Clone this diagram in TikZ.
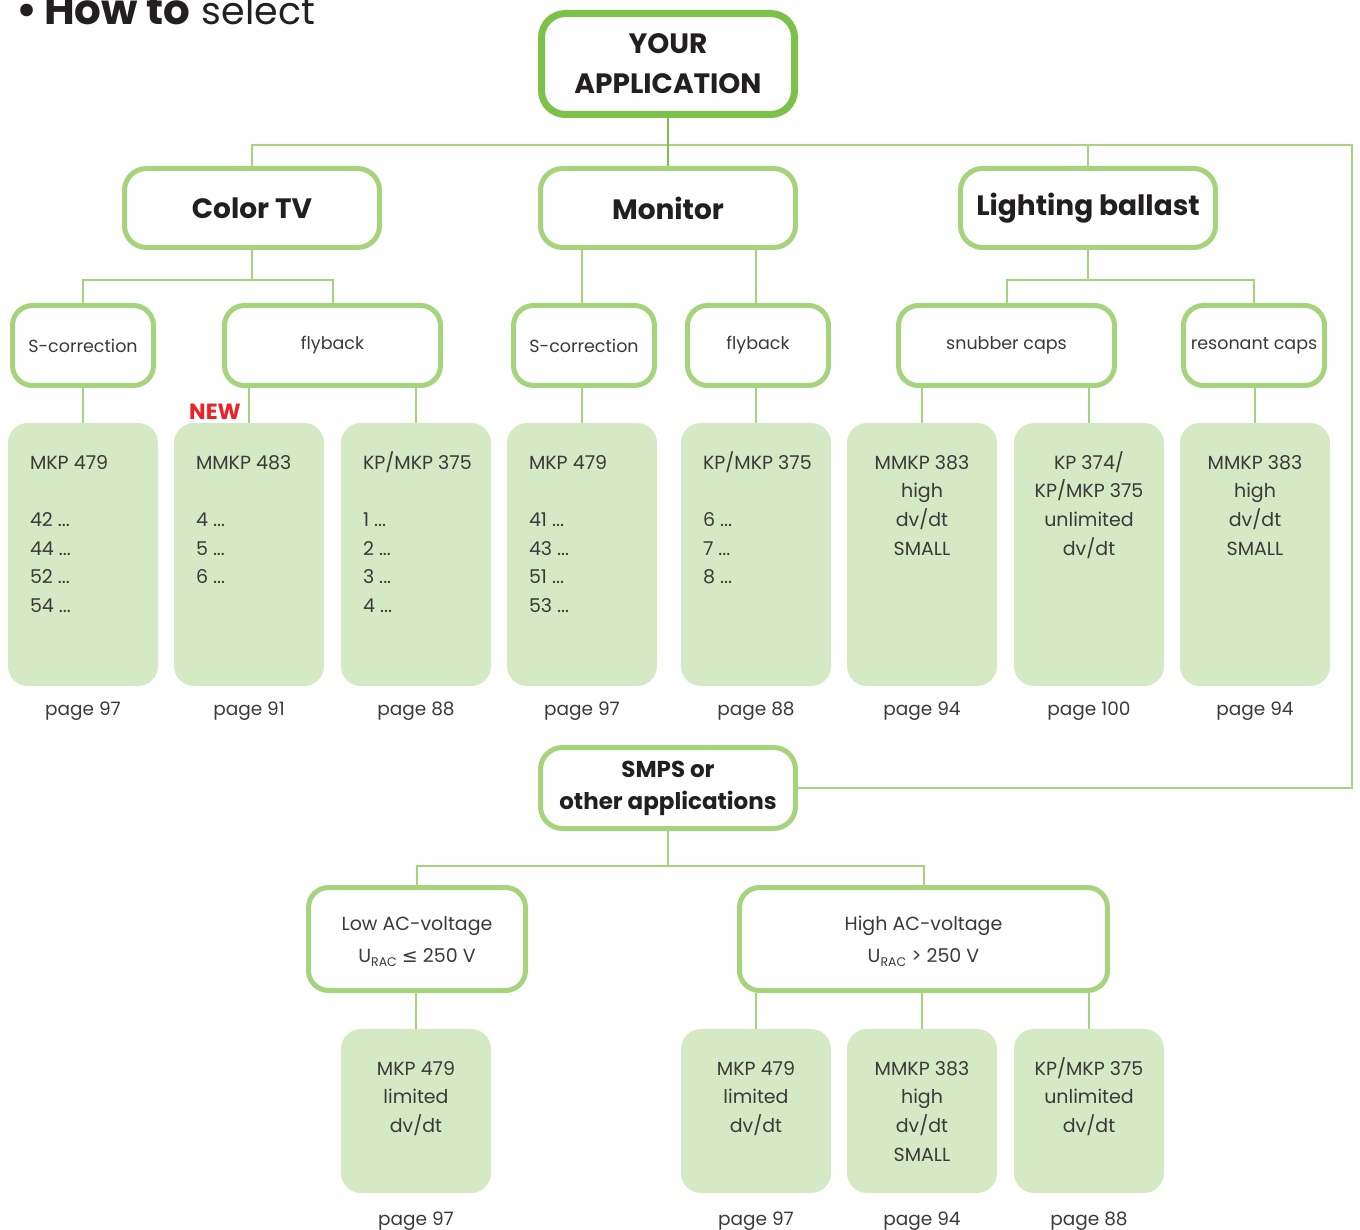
\documentclass[tikz,border=0pt]{standalone}
\usepackage{fontspec}
\setmainfont{Poppins}
\newfontfamily\symfont{DejaVu Sans}
\usetikzlibrary{calc}
\definecolor{brightgreen}{HTML}{7CC24A}
\definecolor{lightgreen}{HTML}{A6D47C}
\definecolor{fillgreen}{HTML}{D5E9C4}
\definecolor{txt}{HTML}{3A3A3A}
\definecolor{dark}{HTML}{231F20}
\definecolor{newred}{HTML}{EC2227}
\newcommand{\urac}{U\raisebox{-4pt}{\fontsize{12.5}{12.5}\selectfont RAC}}
\newcommand{\fst}{\rule{0pt}{22pt}}
\tikzset{
 mainbox/.style={draw=brightgreen, line width=7pt, rounded corners=24pt, fill=white, minimum width=253pt, minimum height=101pt, inner sep=0pt, align=center, text=dark, font=\fontsize{28}{40}\selectfont\bfseries},
 catbox/.style={draw=lightgreen, line width=5pt, rounded corners=22pt, fill=white, minimum width=255pt, minimum height=79pt, inner sep=0pt, align=center, text=dark, font=\fontsize{28}{34}\selectfont\bfseries},
 subbox/.style={draw=lightgreen, line width=5pt, rounded corners=20pt, fill=white, minimum height=80pt, inner sep=0pt, align=center, text=txt, font=\fontsize{17.5}{32}\selectfont},
 prodbox/.style={fill=fillgreen, rounded corners=20pt, minimum width=150pt, inner sep=0pt},
 prodtxt/.style={text=txt, font=\fontsize{19}{28.7}\selectfont, inner sep=0pt},
 pagelbl/.style={text=txt, font=\fontsize{18.5}{22}\selectfont, inner sep=0pt},
 conn/.style={draw=lightgreen, line width=2pt},
}
\begin{document}
\begin{tikzpicture}[x=1pt,y=-1pt]
\useasboundingbox (0,0) rectangle (1360,1230);
\clip (0,0) rectangle (1360,1230);

% title
\node[anchor=base west, inner sep=0pt, text=dark, font=\fontsize{42}{42}\selectfont] (title) at (16,25) {\textbf{•\,How to} {\fontsize{38}{38}\selectfont select}};

% top
\node[mainbox] (app) at (668,64) {YOUR\\APPLICATION};

% categories
\node[catbox] (ctv) at (252,208) {Color TV};
\node[catbox] (mon) at (668,208) {Monitor};
\node[catbox] (lb) at (1088,208) {Lighting ballast};

% sub categories
\node[subbox, minimum width=141pt] (sc1) at (83,345.5) {S-correction};
\node[subbox, minimum width=216pt] (fb1) at (332.5,345.5) {flyback};
\node[subbox, minimum width=141pt] (sc2) at (584,345.5) {S-correction};
\node[subbox, minimum width=141pt] (fb2) at (758,345.5) {flyback};
\node[subbox, minimum width=216pt] (snub) at (1006.5,345.5) {snubber caps};
\node[subbox, minimum width=141pt] (res) at (1254,345.5) {resonant caps};

% product boxes
\foreach \n/\x in {1/83,2/249,3/416,4/582,5/756,6/922,7/1089,8/1255}{
  \node[prodbox, minimum height=263pt] (g\n) at (\x,554.5) {};
}
\node[prodtxt, anchor=north west, align=left] (t1) at ($(g1.north west)+(22,24)$) {\fst MKP 479\\[28.7pt]42 ...\\44 ...\\52 ...\\54 ...};
\node[prodtxt, anchor=north west, align=left] (t2) at ($(g2.north west)+(22,24)$) {\fst MMKP 483\\[28.7pt]4 ...\\5 ...\\6 ...};
\node[prodtxt, anchor=north west, align=left] (t3) at ($(g3.north west)+(22,24)$) {\fst KP/MKP 375\\[28.7pt]1 ...\\2 ...\\3 ...\\4 ...};
\node[prodtxt, anchor=north west, align=left] (t4) at ($(g4.north west)+(22,24)$) {\fst MKP 479\\[28.7pt]41 ...\\43 ...\\51 ...\\53 ...};
\node[prodtxt, anchor=north west, align=left] (t5) at ($(g5.north west)+(22,24)$) {\fst KP/MKP 375\\[28.7pt]6 ...\\7 ...\\8 ...};
\node[prodtxt, anchor=north, align=center] (t6) at ($(g6.north)+(0,24)$) {\fst MMKP 383\\high\\dv/dt\\SMALL};
\node[prodtxt, anchor=north, align=center] (t7) at ($(g7.north)+(0,24)$) {\fst KP 374/\\KP/MKP 375\\unlimited\\dv/dt};
\node[prodtxt, anchor=north, align=center] (t8) at ($(g8.north)+(0,24)$) {\fst MMKP 383\\high\\dv/dt\\SMALL};

\foreach \n/\p in {1/97,2/91,3/88,4/97,5/88,6/94,7/100,8/94}{
  \node[pagelbl] (p\n) at ($(g\n.south)+(0,25)$) {page \p};
}

\node[inner sep=0pt, text=newred, font=\fontsize{22}{22}\selectfont\bfseries] (new) at (215,412) {NEW};

% SMPS
\node[catbox, minimum height=81pt, font=\fontsize{23}{32}\selectfont\bfseries] (smps) at (668,788) {SMPS or\\other applications};
\node[subbox, minimum width=217pt, minimum height=103pt, font=\fontsize{19}{32}\selectfont] (low) at (417,939) {\rule{0pt}{20pt}Low AC-voltage\\\urac\ {\symfont ≤} 250 V};
\node[subbox, minimum width=368pt, minimum height=103pt, font=\fontsize{19}{32}\selectfont] (high) at (923.5,939) {\rule{0pt}{20pt}High AC-voltage\\\urac\ > 250 V};

\foreach \n/\x in {1/416,2/756,3/922,4/1089}{
  \node[prodbox, minimum height=164pt] (h\n) at (\x,1111) {};
}
\node[prodtxt, anchor=north, align=center] (u1) at ($(h1.north)+(0,24)$) {\fst MKP 479\\limited\\dv/dt};
\node[prodtxt, anchor=north, align=center] (u2) at ($(h2.north)+(0,24)$) {\fst MKP 479\\limited\\dv/dt};
\node[prodtxt, anchor=north, align=center] (u3) at ($(h3.north)+(0,24)$) {\fst MMKP 383\\high\\dv/dt\\SMALL};
\node[prodtxt, anchor=north, align=center] (u4) at ($(h4.north)+(0,24)$) {\fst KP/MKP 375\\unlimited\\dv/dt};
\foreach \n/\p in {1/97,2/97,3/94,4/88}{
  \node[pagelbl] (q\n) at ($(h\n.south)+(0,28)$) {page \p};
}

% connectors
\coordinate (corner) at (1352,145);
\draw[conn] (ctv.north) |- (corner) |- (smps.east);
\draw[conn] (lb.north) -- (lb.north |- corner);
\draw[draw=brightgreen, line width=2pt] (app.south) -- (mon.north);

\draw[conn] (ctv.south) -- ++(0,30) coordinate (cb);
\draw[conn] (sc1.north) |- (cb) -| (fb1.north);
\draw[conn] (sc1.south -| g1.north) -- (g1.north);
\draw[conn] (fb1.south -| g2.north) -- (g2.north);
\draw[conn] (fb1.south -| g3.north) -- (g3.north);

\draw[conn] (mon.south -| g4.north) -- (sc2.north -| g4.north);
\draw[conn] (mon.south -| g5.north) -- (fb2.north -| g5.north);
\draw[conn] (sc2.south -| g4.north) -- (g4.north);
\draw[conn] (fb2.south -| g5.north) -- (g5.north);

\draw[conn] (lb.south) -- ++(0,30) coordinate (lbb);
\draw[conn] (snub.north) |- (lbb) -| (res.north);
\draw[conn] (snub.south -| g6.north) -- (g6.north);
\draw[conn] (snub.south -| g7.north) -- (g7.north);
\draw[conn] (res.south -| g8.north) -- (g8.north);

\draw[conn] (smps.south) -- ++(0,35) coordinate (sb);
\draw[conn] (low.north) |- (sb) -| (high.north);
\draw[conn] (low.south -| h1.north) -- (h1.north);
\draw[conn] (high.south -| h2.north) -- (h2.north);
\draw[conn] (high.south -| h3.north) -- (h3.north);
\draw[conn] (high.south -| h4.north) -- (h4.north);
\end{tikzpicture}
\end{document}
